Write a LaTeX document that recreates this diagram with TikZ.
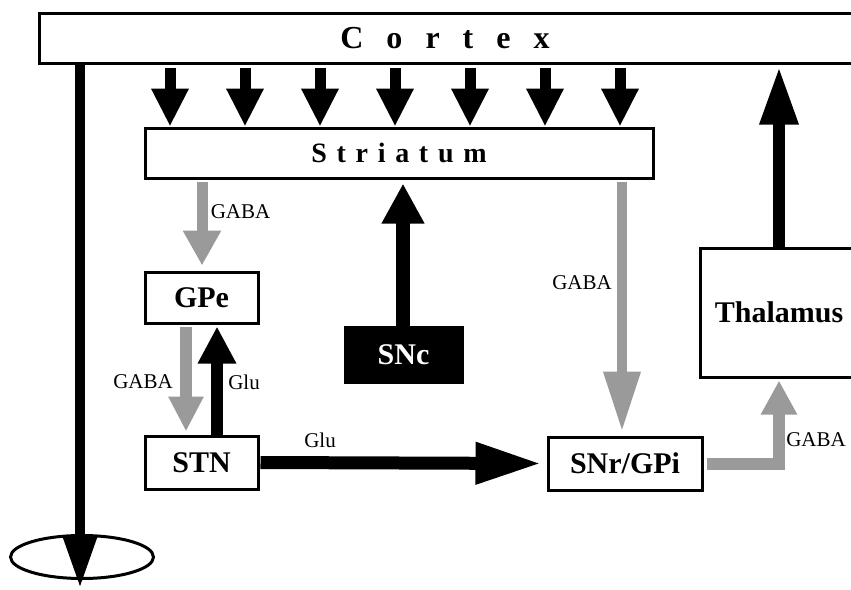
\documentclass[tikz,border=0pt]{standalone}
\usepackage{fontspec}
\setmainfont{Liberation Serif}
\usetikzlibrary{arrows.meta,shapes.geometric}
\definecolor{pathgray}{HTML}{9A9A9A}
\tikzset{
  box/.style={draw, line width=3pt, rectangle, inner sep=0pt,
    font=\fontsize{30}{36}\selectfont\bfseries},
  lbl/.style={font=\fontsize{21}{25}\selectfont, inner sep=0pt},
  exc/.style n args={3}{draw=black, line width=#1pt,
    -{Triangle[width=#2pt,length=#3pt]}},
  inh/.style n args={3}{draw=pathgray, line width=#1pt, line join=miter,
    -{Triangle[width=#2pt,length=#3pt]}},
}
% spaced-out capitals for the two wide bands
\newcommand{\cgap}{\hspace{23pt}}
\newcommand{\sgap}{\hspace{9.7pt}}
\begin{document}
\begin{tikzpicture}[x=1pt,y=-1pt]
\useasboundingbox (0,0) rectangle (851,589);
\clip (0,0) rectangle (851,589);

% boxes
\node[box, minimum width=841pt, minimum height=50pt] (cortex) at (459.5,38) {};
\node[font=\fontsize{32}{38}\selectfont\bfseries, inner sep=0pt] (cortexname) at (445,38)
  {C\cgap o\cgap r\cgap t\cgap e\cgap x};
\node[box, minimum width=508pt, minimum height=50pt,
  font=\fontsize{28}{34}\selectfont\bfseries] (striatum) at (399,153)
  {S\sgap t\sgap r\sgap i\sgap a\sgap t\sgap u\sgap m};
\node[box, minimum width=113pt, minimum height=51pt] (gpe) at (201.5,297.5) {GPe};
\node[box, minimum width=113pt, minimum height=53pt] (stn) at (201.5,462.5) {STN};
\node[box, fill=black, text=white, minimum width=117pt, minimum height=55pt] (snc) at (403.5,354.5) {SNc};
\node[box, minimum width=154pt, minimum height=53pt] (snr) at (625,463.5) {SNr/GPi};
\node[box, minimum width=158pt, minimum height=129pt] (thal) at (779,312.5) {Thalamus};

% descending output with its ring
\node[ellipse, draw, line width=3pt, minimum width=143pt, minimum height=43pt, inner sep=0pt]
  (ring) at (82,557) {};
\coordinate (ltop) at (80,0);
\coordinate (lend) at (80,588);
\draw[exc={10}{33}{53}] (ltop |- cortex.south) -- (lend);

% cortico-striatal projections
\foreach \x [count=\i] in {170,245,320,395,470,545,620} {
  \coordinate (col\i) at (\x,0);
  \draw[exc={11}{35}{38}] ([yshift=-3pt]col\i |- cortex.south) -- (col\i |- striatum.north);
}

% striatum -> GPe
\coordinate (g1) at (202,0);
\draw[inh={11}{36}{35}] ([yshift=-2pt]g1 |- striatum.south) -- ([yshift=5pt]g1 |- gpe.north);
\node[lbl] (l1) at (240.5,212) {GABA};

% GPe -> STN
\coordinate (g2) at (186,0);
\draw[inh={12}{33}{35}] ([yshift=-2pt]g2 |- gpe.south) -- ([yshift=3pt]g2 |- stn.north);
\node[lbl] (l2) at (143,382) {GABA};

% STN -> GPe
\coordinate (g3) at (217,0);
\draw[exc={12}{36}{37}] (g3 |- stn.north) -- ([yshift=-2pt]g3 |- gpe.south);
\node[lbl] (l3) at (244,382) {Glu};

% SNc -> striatum
\coordinate (g4) at (403,0);
\draw[exc={14}{40}{40}] (g4 |- snc.north) -- ([yshift=-4pt]g4 |- striatum.south);

% STN -> SNr/GPi
\draw[exc={13}{39}{66}] ([xshift=1pt]stn.east) -- ([xshift=-5pt]snr.west);
\node[lbl] (l4) at (320,440) {Glu};

% striatum -> SNr/GPi
\coordinate (g5) at (622,0);
\draw[inh={10}{35}{60}] ([yshift=-2pt]g5 |- striatum.south) -- ([yshift=4pt]g5 |- snr.north);
\node[lbl] (l5) at (582,283) {GABA};

% SNr/GPi -> thalamus
\draw[inh={12}{34}{34}] ([xshift=3pt]snr.east) -| ([yshift=-2pt]thal.south);
\node[lbl] (l6) at (816,440) {GABA};

% thalamus -> cortex
\draw[exc={12}{36}{58}] (thal.north) -- ([yshift=-2pt]thal.north |- cortex.south);
\end{tikzpicture}
\end{document}
